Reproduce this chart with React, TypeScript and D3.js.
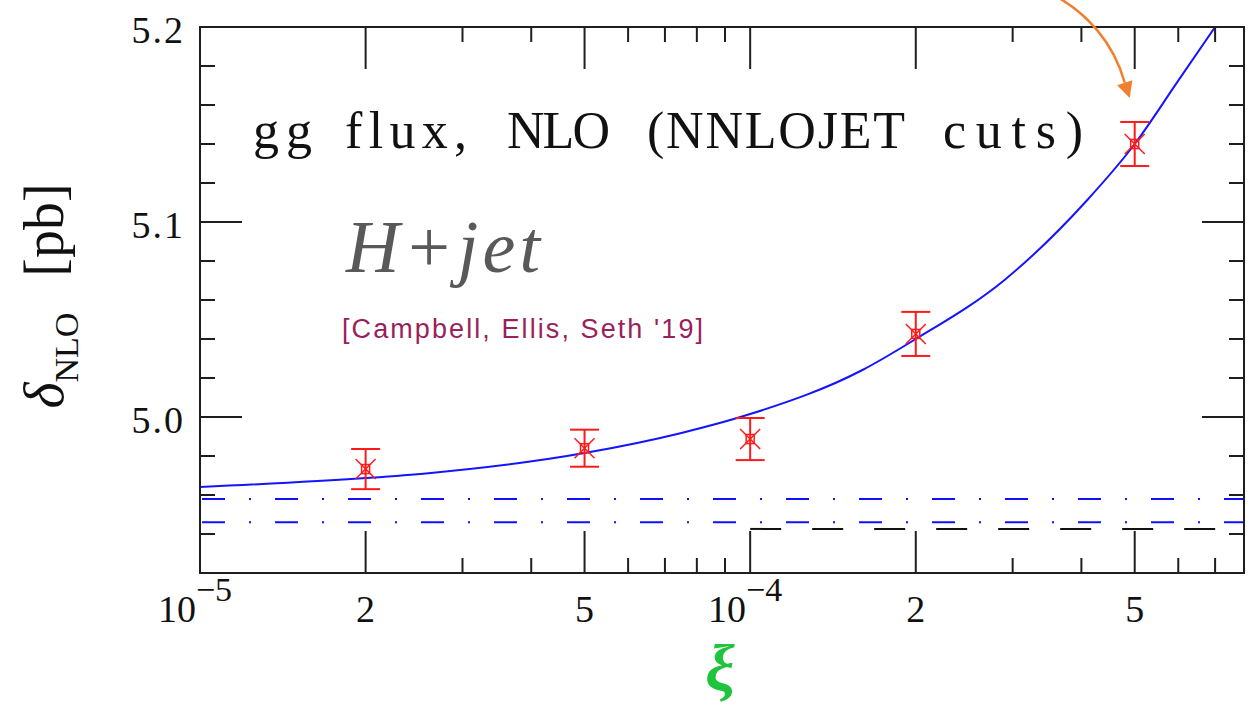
import React from 'react';
import * as d3 from 'd3';

// blue curve (fit)
const curveXi = [1e-5, 2e-5, 2.6e-5, 5e-5, 7.5e-5, 1e-4, 1.6e-4, 2e-4, 2.9e-4, 4.1e-4, 5e-4, 6e-4, 7e-4];
const curveVal = [4.9641, 4.9687, 4.9712, 4.9815, 4.9918, 5.0015, 5.0241, 5.04, 5.0703, 5.1113, 5.14, 5.1725, 5.2];

// red points with error bars
const pointXi = [2e-5, 5e-5, 1e-4, 2e-4, 5e-4];
const pointVal = [4.9733, 4.984, 4.9887, 5.0426, 5.14];
const pointErr = [0.0103, 0.0095, 0.0108, 0.0113, 0.0113];

// horizontal reference lines
const dashDotVals = [4.958, 4.946];
const blackDashVal = 4.9426;
const blackDashFrom = 1e-4;

// ticks
const xMajor = [1e-5, 2e-5, 5e-5, 1e-4, 2e-4, 5e-4];
const xMinor = [3e-5, 4e-5, 6e-5, 7e-5, 8e-5, 9e-5, 3e-4, 4e-4, 6e-4, 7e-4];
const xLabels = [
  { v: 1e-5, base: '10', exp: '\u22125' },
  { v: 2e-5, base: '2', exp: '' },
  { v: 5e-5, base: '5', exp: '' },
  { v: 1e-4, base: '10', exp: '\u22124' },
  { v: 2e-4, base: '2', exp: '' },
  { v: 5e-4, base: '5', exp: '' },
];
const yMajor = [5.0, 5.1, 5.2];
const yMinor = [4.92, 4.94, 4.96, 4.98, 5.02, 5.04, 5.06, 5.08, 5.12, 5.14, 5.16, 5.18];
const yLabels = ['5.0', '5.1', '5.2'];

// title words with their left edge and width in the picture
const titleWords = [
  { t: 'gg', x: 253, w: 59 },
  { t: 'flux,', x: 345, w: 122 },
  { t: 'NLO', x: 507, w: 103 },
  { t: '(NNLOJET', x: 647, w: 258 },
  { t: 'cuts)', x: 943, w: 140 },
];

const W = 1250;
const H = 709;
const serif = '"Liberation Serif", "DejaVu Serif", serif';

const App = () => {
  const left = 200, right = 1244, top = 27, bottom = 573;
  const x = d3.scaleLog().domain([1e-5, 7.9e-4]).range([left, right]);
  const y = d3.scaleLinear().domain([4.92, 5.2]).range([bottom, top]);

  const curve = curveXi.map((xi, i) => [xi, curveVal[i]] as [number, number]);
  const line = d3.line<[number, number]>()
    .x(d => x(d[0]))
    .y(d => y(d[1]))
    .curve(d3.curveMonotoneX);

  const frame = '#1e1e1e';
  const majorLen = 42, minorLen = 15;

  // arrow toward the last point
  const last = pointXi.length - 1;
  const tipX = x(pointXi[last]) - 5;
  const tipY = y(pointVal[last] + pointErr[last]) - 24;
  const dir = [0.31, 0.95];
  const bx = tipX - 16 * dir[0], by = tipY - 16 * dir[1];
  const head = `${tipX},${tipY} ${bx + 8 * dir[1]},${by - 8 * dir[0]} ${bx - 8 * dir[1]},${by + 8 * dir[0]}`;

  return (
    <svg width={W} height={H} style={{ position: 'absolute', left: 0, top: 0, background: '#fff' }}>
      <defs>
        <clipPath id="plot">
          <rect x={left} y={top} width={right - left} height={bottom - top} />
        </clipPath>
      </defs>

      {/* reference lines */}
      <g clipPath="url(#plot)">
        {dashDotVals.map((v, i) => (
          <line key={i} x1={left + 2} x2={right} y1={y(v)} y2={y(v)}
            stroke="#1010ff" strokeWidth={2} strokeDasharray="23 24 2 24" />
        ))}
        <line x1={x(blackDashFrom)} x2={right} y1={y(blackDashVal)} y2={y(blackDashVal)}
          stroke="#111" strokeWidth={2} strokeDasharray="31 31" />
        <path d={line(curve) || ''} fill="none" stroke="#1414ff" strokeWidth={2} />
      </g>

      {/* data points */}
      {pointXi.map((xi, i) => {
        const cx = x(xi), cy = y(pointVal[i]);
        const y1 = y(pointVal[i] + pointErr[i]), y2 = y(pointVal[i] - pointErr[i]);
        const c = '#ff1a1a';
        return (
          <g key={i} stroke={c} strokeWidth={2} fill="none">
            <line x1={cx} x2={cx} y1={y1} y2={y2} />
            <line x1={cx - 14.5} x2={cx + 14.5} y1={y1} y2={y1} />
            <line x1={cx - 14.5} x2={cx + 14.5} y1={y2} y2={y2} />
            <rect x={cx - 4} y={cy - 4.5} width={8} height={9} strokeWidth={1.5} />
            <line x1={cx - 10} y1={cy - 10} x2={cx + 10} y2={cy + 10} strokeWidth={1.5} />
            <line x1={cx - 10} y1={cy + 10} x2={cx + 10} y2={cy - 10} strokeWidth={1.5} />
          </g>
        );
      })}

      {/* ticks */}
      <g stroke={frame} strokeWidth={2}>
        {xMajor.map((v, i) => (
          <g key={'xM' + i}>
            <line x1={x(v)} x2={x(v)} y1={bottom} y2={bottom - majorLen} />
            <line x1={x(v)} x2={x(v)} y1={top} y2={top + majorLen} />
          </g>
        ))}
        {xMinor.map((v, i) => (
          <g key={'xm' + i}>
            <line x1={x(v)} x2={x(v)} y1={bottom} y2={bottom - minorLen} />
            <line x1={x(v)} x2={x(v)} y1={top} y2={top + minorLen} />
          </g>
        ))}
        {yMajor.map((v, i) => (
          <g key={'yM' + i}>
            <line x1={left} x2={left + majorLen} y1={y(v)} y2={y(v)} />
            <line x1={right} x2={right - majorLen} y1={y(v)} y2={y(v)} />
          </g>
        ))}
        {yMinor.map((v, i) => (
          <g key={'ym' + i}>
            <line x1={left} x2={left + minorLen} y1={y(v)} y2={y(v)} />
            <line x1={right} x2={right - minorLen} y1={y(v)} y2={y(v)} />
          </g>
        ))}
        <rect x={left} y={top} width={right - left} height={bottom - top} fill="none" />
      </g>

      {/* tick labels */}
      <g fontFamily={serif} fill="#111">
        {yMajor.map((v, i) => (
          <text key={i} x={left - 15} y={y(v) + 16} fontSize={38} textAnchor="end"
            letterSpacing={2}>{yLabels[i]}</text>
        ))}
        {xLabels.map((t, i) => (
          <text key={i} x={x(t.v) - (t.exp ? 5 : 0)} y={622} fontSize={38} textAnchor="middle">
            {t.base}
            {t.exp && <tspan fontSize={34} dy={-21}>{t.exp}</tspan>}
          </text>
        ))}
      </g>

      {/* axis titles */}
      <text transform="translate(63,296) rotate(-90)" fontFamily={serif} fill="#111" textAnchor="middle">
        <tspan fontSize={56} fontStyle="italic">δ</tspan>
        <tspan fontSize={34} dy={15}>NLO</tspan>
        <tspan fontSize={56} dy={-15} dx={36}>[pb]</tspan>
      </text>
      <text x={720} y={690} fontFamily={serif} fontSize={66} fontStyle="italic" fontWeight="bold"
        fill="#1ec43c" textAnchor="middle">ξ</text>

      {/* annotations */}
      {titleWords.map((w, i) => (
        <text key={i} x={w.x} y={148} fontFamily={serif} fontSize={52} fill="#111"
          textLength={w.w} lengthAdjust="spacing">{w.t}</text>
      ))}
      <text x={346} y={272} fontFamily={serif} fontSize={74} fontStyle="italic" fill="#595959"
        textLength={194} lengthAdjust="spacing">H+jet</text>
      <text x={342} y={338} fontFamily='"Liberation Sans", Arial, sans-serif' fontSize={27} fill="#9a1f5c"
        textLength={361} lengthAdjust="spacing">[Campbell, Ellis, Seth '19]</text>

      <path d={`M1048,-8 C1088,12 1114,44 ${bx},${by}`} fill="none" stroke="#f07f2e" strokeWidth={2.5} />
      <polygon points={head} fill="#f07f2e" />
    </svg>
  );
};

export default App;
